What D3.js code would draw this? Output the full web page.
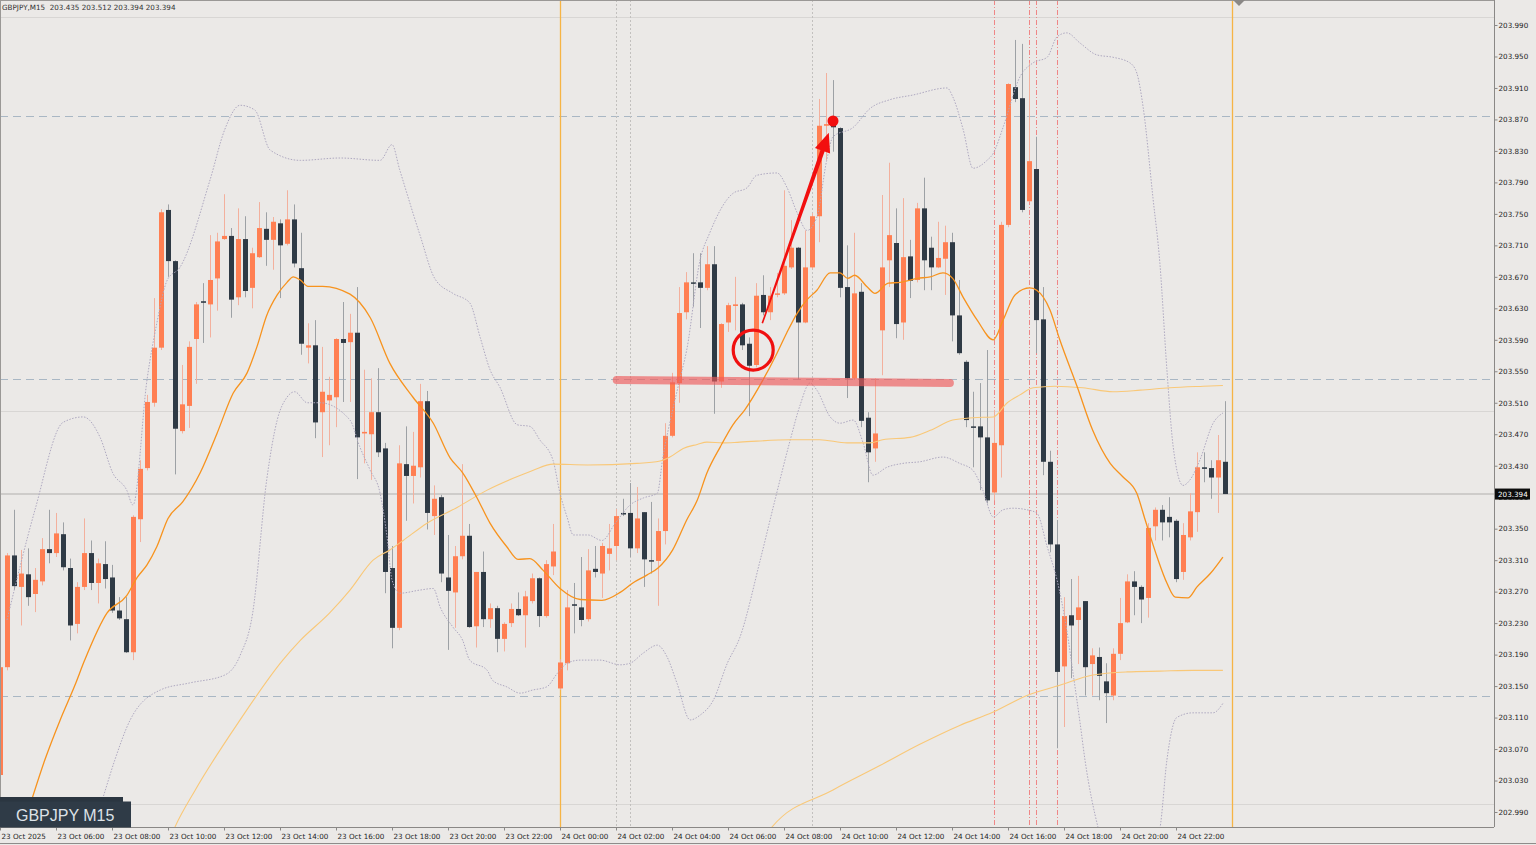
<!DOCTYPE html>
<html>
<head>
<meta charset="utf-8">
<script src="https://cdn.jsdelivr.net/npm/d3@7"></script>
<style>
    html, body { margin: 0; padding: 0; background: #ebe9e7; overflow: hidden; }
    svg { display: block; }
</style>
</head>
<body>
<div id="chart"></div>
<script>
const WIDTH = 1536;
const HEIGHT = 845;
const PLOT = { left: 0, top: 0, right: 1494, bottom: 827 };

// GBPJPY M15, bar 0 = 23 Oct 04:00
const opens = [
    203.037, 203.174, 203.316, 203.276, 203.292, 203.267, 203.283, 203.324, 203.319, 203.343,
    203.300, 203.229, 203.276, 203.319, 203.281, 203.305, 203.288, 203.246, 203.235, 203.193,
    203.362, 203.427, 203.510, 203.580, 203.755, 203.690, 203.474, 203.506, 203.591, 203.639,
    203.635, 203.668, 203.718, 203.722, 203.644, 203.718, 203.656, 203.695, 203.731, 203.717,
    203.738, 203.712, 203.743, 203.681, 203.580, 203.583, 203.498, 203.513, 203.517, 203.591,
    203.587, 203.599, 203.471, 203.470, 203.498, 203.452, 203.300, 203.224, 203.432, 203.417,
    203.428, 203.512, 203.366, 203.390, 203.288, 203.269, 203.315, 203.341, 203.226, 203.295,
    203.235, 203.249, 203.210, 203.230, 203.248, 203.240, 203.258, 203.287, 203.239, 203.302,
    203.147, 203.179, 203.254, 203.250, 203.235, 203.299, 203.293, 203.318, 203.328, 203.370,
    203.370, 203.325, 203.371, 203.310, 203.309, 203.347, 203.468, 203.535, 203.625, 203.663,
    203.663, 203.656, 203.686, 203.537, 203.612, 203.633, 203.635, 203.585, 203.558, 203.647,
    203.625, 203.648, 203.649, 203.682, 203.707, 203.612, 203.682, 203.747, 203.862, 203.867,
    203.859, 203.657, 203.541, 203.651, 203.491, 203.452, 203.602, 203.691, 203.713, 203.612,
    203.696, 203.666, 203.757, 203.707, 203.682, 203.693, 203.714, 203.621, 203.562, 203.480,
    203.480, 203.466, 203.396, 203.456, 203.736, 203.911, 203.897, 203.766, 203.807, 203.616,
    203.435, 203.330, 203.175, 203.240, 203.234, 203.258, 203.178, 203.187, 203.156, 203.138,
    203.191, 203.231, 203.283, 203.276, 203.262, 203.353, 203.374, 203.365, 203.360, 203.295,
    203.339, 203.371, 203.428, 203.427, 203.415, 203.435
];
const highs = [
    203.183, 203.319, 203.374, 203.323, 203.325, 203.300, 203.338, 203.374, 203.370, 203.358,
    203.312, 203.282, 203.363, 203.335, 203.312, 203.334, 203.304, 203.263, 203.263, 203.367,
    203.437, 203.520, 203.643, 203.756, 203.762, 203.691, 203.558, 203.588, 203.638, 203.662,
    203.723, 203.726, 203.775, 203.732, 203.757, 203.747, 203.707, 203.765, 203.752, 203.746,
    203.743, 203.780, 203.762, 203.726, 203.611, 203.615, 203.581, 203.543, 203.592, 203.638,
    203.623, 203.657, 203.552, 203.541, 203.554, 203.459, 203.328, 203.456, 203.480, 203.473,
    203.534, 203.525, 203.405, 203.393, 203.342, 203.328, 203.432, 203.356, 203.295, 203.321,
    203.255, 203.252, 203.231, 203.255, 203.269, 203.271, 203.293, 203.288, 203.310, 203.356,
    203.184, 203.272, 203.281, 203.314, 203.324, 203.328, 203.332, 203.356, 203.375, 203.388,
    203.408, 203.403, 203.371, 203.384, 203.363, 203.484, 203.548, 203.657, 203.676, 203.700,
    203.700, 203.709, 203.709, 203.611, 203.637, 203.670, 203.637, 203.593, 203.662, 203.672,
    203.657, 203.675, 203.780, 203.742, 203.708, 203.729, 203.751, 203.896, 203.929, 203.920,
    203.860, 203.710, 203.726, 203.662, 203.498, 203.541, 203.774, 203.815, 203.757, 203.770,
    203.717, 203.764, 203.796, 203.721, 203.740, 203.735, 203.726, 203.666, 203.564, 203.524,
    203.535, 203.577, 203.501, 203.740, 203.916, 203.971, 203.966, 203.942, 203.848, 203.657,
    203.449, 203.361, 203.263, 203.286, 203.290, 203.258, 203.198, 203.199, 203.179, 203.198,
    203.262, 203.292, 203.296, 203.278, 203.357, 203.377, 203.380, 203.390, 203.362, 203.357,
    203.395, 203.447, 203.447, 203.437, 203.469, 203.512
];
const lows = [
    203.033, 203.170, 203.272, 203.227, 203.252, 203.244, 203.278, 203.306, 203.314, 203.297,
    203.208, 203.217, 203.272, 203.272, 203.255, 203.274, 203.243, 203.234, 203.192, 203.183,
    203.333, 203.424, 203.505, 203.577, 203.670, 203.419, 203.471, 203.478, 203.534, 203.586,
    203.593, 203.627, 203.717, 203.618, 203.634, 203.644, 203.630, 203.694, 203.684, 203.679,
    203.643, 203.710, 203.682, 203.571, 203.560, 203.465, 203.441, 203.456, 203.479, 203.511,
    203.511, 203.413, 203.433, 203.412, 203.441, 203.268, 203.198, 203.221, 203.360, 203.382,
    203.415, 203.349, 203.342, 203.282, 203.196, 203.224, 203.311, 203.224, 203.199, 203.225,
    203.224, 203.193, 203.194, 203.225, 203.239, 203.199, 203.255, 203.225, 203.237, 203.291,
    203.145, 203.170, 203.217, 203.226, 203.232, 203.288, 203.262, 203.297, 203.310, 203.366,
    203.314, 203.319, 203.276, 203.293, 203.252, 203.330, 203.466, 203.510, 203.616, 203.632,
    203.605, 203.653, 203.496, 203.529, 203.600, 203.602, 203.577, 203.493, 203.555, 203.621,
    203.615, 203.644, 203.647, 203.680, 203.540, 203.611, 203.680, 203.714, 203.818, 203.829,
    203.644, 203.516, 203.539, 203.479, 203.409, 203.435, 203.545, 203.657, 203.592, 203.590,
    203.643, 203.663, 203.653, 203.653, 203.681, 203.647, 203.588, 203.571, 203.479, 203.428,
    203.399, 203.382, 203.386, 203.415, 203.733, 203.892, 203.752, 203.765, 203.573, 203.418,
    203.320, 203.071, 203.098, 203.160, 203.178, 203.138, 203.138, 203.132, 203.103, 203.132,
    203.183, 203.230, 203.240, 203.230, 203.237, 203.335, 203.335, 203.339, 203.282, 203.285,
    203.335, 203.346, 203.409, 203.388, 203.370, 203.394
];
const closes = [
    203.174, 203.316, 203.277, 203.293, 203.263, 203.285, 203.324, 203.319, 203.344, 203.301,
    203.227, 203.276, 203.319, 203.281, 203.306, 203.286, 203.246, 203.236, 203.193, 203.365,
    203.426, 203.511, 203.580, 203.752, 203.690, 203.477, 203.508, 203.581, 203.635, 203.637,
    203.666, 203.715, 203.722, 203.641, 203.718, 203.652, 203.700, 203.732, 203.717, 203.740,
    203.710, 203.743, 203.687, 203.585, 203.583, 203.485, 203.524, 203.520, 203.591, 203.586,
    203.599, 203.466, 203.473, 203.498, 203.447, 203.295, 203.224, 203.433, 203.417, 203.430,
    203.512, 203.370, 203.388, 203.293, 203.271, 203.315, 203.341, 203.225, 203.295, 203.235,
    203.249, 203.210, 203.229, 203.248, 203.240, 203.264, 203.287, 203.239, 203.305, 203.321,
    203.180, 203.250, 203.252, 203.234, 203.297, 203.295, 203.328, 203.325, 203.366, 203.368,
    203.325, 203.363, 203.311, 203.309, 203.347, 203.468, 203.536, 203.624, 203.663, 203.662,
    203.656, 203.686, 203.537, 203.610, 203.634, 203.635, 203.583, 203.557, 203.646, 203.625,
    203.646, 203.649, 203.684, 203.707, 203.612, 203.682, 203.747, 203.862, 203.864, 203.860,
    203.656, 203.541, 203.649, 203.487, 203.447, 203.471, 203.682, 203.723, 203.610, 203.695,
    203.665, 203.757, 203.691, 203.682, 203.694, 203.714, 203.621, 203.573, 203.488, 203.479,
    203.466, 203.386, 203.459, 203.736, 203.915, 203.896, 203.755, 203.817, 203.615, 203.435,
    203.330, 203.168, 203.239, 203.227, 203.250, 203.174, 203.189, 203.163, 203.141, 203.191,
    203.230, 203.283, 203.276, 203.260, 203.351, 203.374, 203.358, 203.358, 203.286, 203.342,
    203.372, 203.428, 203.426, 203.415, 203.437, 203.394
];

// indicator readings: [bar, price]
const bandUpper = [
    [1, 203.234], [5, 203.374], [9, 203.485], [11.9, 203.492], [14.3, 203.466], [16.1, 203.421],
    [18.1, 203.399], [19, 203.380], [21, 203.539], [22.4, 203.611], [23.9, 203.666], [25.7, 203.682],
    [30, 203.793], [32.1, 203.857], [34.3, 203.888], [36.4, 203.882], [38.6, 203.831], [42.9, 203.818],
    [48.6, 203.821], [54.3, 203.818], [56, 203.838], [57.1, 203.806], [60, 203.723], [62.1, 203.668],
    [64.7, 203.649], [67.1, 203.637], [68.6, 203.593], [70, 203.552], [71.4, 203.530], [73.9, 203.482],
    [75.7, 203.480], [77.1, 203.463], [79, 203.437], [80, 203.395], [81, 203.365], [81.9, 203.342],
    [84, 203.342], [86, 203.335], [87.9, 203.357], [90, 203.380], [91.9, 203.389], [93.9, 203.395],
    [94.7, 203.441], [96, 203.497], [97.1, 203.539], [98.1, 203.577], [100, 203.691], [101.4, 203.726],
    [104.7, 203.776], [106.7, 203.783], [108.1, 203.799], [111, 203.802], [112.4, 203.784], [113.9, 203.751],
    [115.3, 203.729], [116.7, 203.746], [118.1, 203.818], [119, 203.848], [121.9, 203.860], [124.3, 203.884],
    [127.1, 203.895], [130.4, 203.901], [135.3, 203.910], [136.1, 203.899], [137.6, 203.857], [139, 203.808],
    [141, 203.818], [141.9, 203.827], [143.3, 203.860], [145.7, 203.924], [147.6, 203.942], [149.6, 203.949],
    [151, 203.975], [152.4, 203.980], [154.3, 203.967], [156.7, 203.952], [159, 203.949], [161.4, 203.942],
    [162.4, 203.929], [163.3, 203.886], [164.7, 203.771], [165.7, 203.687], [166.7, 203.552], [167.6, 203.454],
    [169, 203.405], [170, 203.412], [171.4, 203.437], [173.3, 203.484], [174.7, 203.497]
];
const bandLower = [
    [11.4, 202.916], [14.6, 203.005], [16.4, 203.056], [18.6, 203.107], [22.9, 203.145], [27.1, 203.154],
    [32.1, 203.164], [34.3, 203.189], [36.1, 203.243], [38.1, 203.412], [39.6, 203.488], [41, 203.517],
    [42.1, 203.524], [43.9, 203.510], [45.7, 203.510], [50, 203.488], [51.4, 203.454], [52.9, 203.424],
    [54.3, 203.395], [55.3, 203.339], [56, 203.285], [57.1, 203.268], [60, 203.272], [61.9, 203.274],
    [62.9, 203.250], [64.7, 203.225], [66.1, 203.208], [67.1, 203.183], [69.6, 203.170], [70.4, 203.157],
    [72.4, 203.149], [74.3, 203.141], [76.1, 203.145], [78.1, 203.149], [79.6, 203.166], [81, 203.179],
    [82.9, 203.183], [85.7, 203.183], [88.6, 203.177], [90, 203.179], [91.9, 203.192], [93.9, 203.202],
    [95.3, 203.187], [96.7, 203.154], [98.6, 203.107], [100, 203.113], [101.9, 203.132], [103.9, 203.179],
    [105.7, 203.212], [108.6, 203.310], [110.7, 203.386], [112.9, 203.463], [114.3, 203.507], [115.7, 203.535],
    [116.7, 203.526], [118.6, 203.492], [120, 203.484], [121.9, 203.488], [123.3, 203.459], [124.7, 203.418],
    [126.7, 203.428], [129, 203.433], [131.4, 203.435], [134.7, 203.441], [137.1, 203.433], [139, 203.424],
    [140.4, 203.399], [141.9, 203.365], [143.3, 203.374], [144.7, 203.376], [146.7, 203.374], [148.1, 203.370],
    [149.6, 203.327], [151, 203.285], [152.4, 203.221], [153.3, 203.166], [154.3, 203.103], [155, 203.056],
    [156.9, 202.969], [160, 202.903], [162.9, 202.903], [165.7, 202.969], [166.7, 203.056], [168.1, 203.110],
    [170.4, 203.116], [173.3, 203.116], [174.7, 203.128]
];
const bandMiddle = [
    [4.3, 202.999], [6.4, 203.056], [8.6, 203.107], [10.7, 203.151], [12.1, 203.183], [15.3, 203.243],
    [18.1, 203.265], [19.6, 203.288], [21, 203.304], [22.4, 203.327], [24, 203.363], [26.1, 203.384],
    [28.6, 203.421], [31, 203.471], [33.3, 203.522], [35.3, 203.548], [36.7, 203.581], [38.1, 203.621],
    [39.6, 203.647], [41, 203.663], [41.9, 203.670], [42.9, 203.666], [44, 203.658], [46.1, 203.658],
    [50, 203.648], [52.9, 203.618], [55.7, 203.560], [59, 203.517], [61.9, 203.484], [64.3, 203.440],
    [66.1, 203.421], [68.1, 203.390], [70, 203.357], [72.4, 203.327], [74, 203.311], [75.7, 203.312],
    [77.6, 203.297], [80, 203.274], [82.9, 203.260], [86, 203.259], [88.6, 203.269], [90.4, 203.281],
    [92.4, 203.291], [94, 203.300], [96.1, 203.323], [98.1, 203.361], [99.6, 203.386], [101, 203.421],
    [102.9, 203.454], [104.7, 203.482], [106.4, 203.501], [109, 203.539], [111, 203.573], [112.4, 203.599],
    [113.9, 203.624], [115.3, 203.641], [116.7, 203.653], [118.6, 203.675], [120, 203.675], [121.1, 203.668],
    [122.1, 203.672], [123.9, 203.657], [125, 203.649], [126.9, 203.662], [128.6, 203.663], [131, 203.668],
    [132.9, 203.670], [134.7, 203.675], [136.1, 203.668], [137.6, 203.644], [139.6, 203.615], [141.9, 203.590],
    [143.3, 203.615], [145, 203.647], [147.1, 203.656], [148.1, 203.653], [150, 203.628], [151.4, 203.590],
    [153.9, 203.530], [156.1, 203.475], [158.6, 203.433], [160.4, 203.416], [162.4, 203.395], [163.6, 203.361],
    [165.3, 203.314], [166.7, 203.281], [167.9, 203.263], [169.7, 203.262], [171, 203.276], [172.9, 203.293],
    [174.7, 203.314]
];
const maSlow = [
    [23.6, 202.941], [25, 202.971], [27.9, 203.018], [34.3, 203.107], [40.4, 203.183], [42.9, 203.208],
    [47.1, 203.243], [50, 203.272], [53.3, 203.310], [55.7, 203.323], [57.6, 203.335], [61, 203.357],
    [65.3, 203.377], [69.6, 203.399], [73.3, 203.414], [76.1, 203.424], [79, 203.432], [83.9, 203.431],
    [91, 203.433], [94.3, 203.436], [95.7, 203.441], [97.6, 203.452], [99.6, 203.457], [101, 203.460],
    [103.3, 203.459], [105.7, 203.460], [112.9, 203.463], [117.1, 203.463], [121, 203.459], [124.3, 203.459],
    [126.1, 203.463], [130, 203.466], [132.9, 203.475], [136.1, 203.488], [139, 203.491], [141.9, 203.492],
    [143.9, 203.510], [145.7, 203.520], [147.6, 203.529], [150.7, 203.531], [154.7, 203.529], [159, 203.524],
    [162.9, 203.526], [167.1, 203.529], [171.9, 203.531], [174.7, 203.532]
];
const maLong = [
    [108.6, 202.948], [110.3, 202.971], [119, 203.018], [125.7, 203.049], [131.4, 203.076], [137.1, 203.100],
    [141.9, 203.117], [146.7, 203.138], [151.4, 203.151], [156.1, 203.164], [161, 203.168], [165.7, 203.169],
    [170.4, 203.170], [174.7, 203.170]
];

const priceTicks = [
    203.990, 203.950, 203.910, 203.870, 203.830, 203.790, 203.750, 203.710, 203.670, 203.630,
    203.590, 203.550, 203.510, 203.470, 203.430, 203.390, 203.350, 203.310, 203.270, 203.230,
    203.190, 203.150, 203.110, 203.070, 203.030, 202.990
];
const timeTickBars = [0, 8, 16, 24, 32, 40, 48, 56, 64, 72, 80, 88, 96, 104, 112, 120, 128, 136, 144, 152, 160, 168];
const timeLabels = [
    '23 Oct 2025', '23 Oct 06:00', '23 Oct 08:00', '23 Oct 10:00', '23 Oct 12:00', '23 Oct 14:00',
    '23 Oct 16:00', '23 Oct 18:00', '23 Oct 20:00', '23 Oct 22:00', '24 Oct 00:00', '24 Oct 02:00',
    '24 Oct 04:00', '24 Oct 06:00', '24 Oct 08:00', '24 Oct 10:00', '24 Oct 12:00', '24 Oct 14:00',
    '24 Oct 16:00', '24 Oct 18:00', '24 Oct 20:00', '24 Oct 22:00'
];

const roundLevels = [204.000, 203.500, 203.000];
const dashedLevels = [203.875, 203.540, 203.1375];
const lastPrice = 203.394;
const periodBars = [80, 176];
const dottedBars = [88, 90, 116];
const redBars = [142, 147, 148, 151];

// annotations (bar, price)
const supportLine = [[88.1, 203.539], [135.7, 203.535]];
const arrowFrom = [108.9, 203.611];
const arrowTo = [118.4, 203.853];
const circleAt = [107.6, 203.577];
const dotAt = [119, 203.868];

const x = d3.scaleLinear().domain([0, 176]).range([0, 1232]);
const y = d3.scaleLinear().domain([202.990, 203.990]).range([812, 25]);

const svg = d3.select('#chart').append('svg')
    .attr('width', WIDTH)
    .attr('height', HEIGHT)
    .style('font-family', '"DejaVu Sans", sans-serif');

svg.append('rect')
    .attr('width', WIDTH)
    .attr('height', HEIGHT)
    .attr('fill', '#ebe9e7');

svg.append('clipPath')
    .attr('id', 'plotClip')
    .append('rect')
    .attr('x', PLOT.left)
    .attr('y', PLOT.top)
    .attr('width', PLOT.right - PLOT.left)
    .attr('height', PLOT.bottom - PLOT.top);

const plot = svg.append('g').attr('clip-path', 'url(#plotClip)');

// horizontal levels
plot.selectAll('.round-level')
    .data(roundLevels)
    .enter().append('line')
    .attr('x1', PLOT.left).attr('x2', PLOT.right)
    .attr('y1', d => Math.round(y(d)) + 0.5).attr('y2', d => Math.round(y(d)) + 0.5)
    .attr('stroke', '#d8d6d4');

plot.selectAll('.dash-level')
    .data(dashedLevels)
    .enter().append('line')
    .attr('x1', PLOT.left).attr('x2', PLOT.right)
    .attr('y1', d => Math.round(y(d)) + 0.5).attr('y2', d => Math.round(y(d)) + 0.5)
    .attr('stroke', '#a9b7c4')
    .attr('stroke-dasharray', '8,5');

plot.append('line')
    .attr('x1', PLOT.left).attr('x2', PLOT.right)
    .attr('y1', y(lastPrice)).attr('y2', y(lastPrice))
    .attr('stroke', '#c4c2c0')
    .attr('stroke-width', 1.5);

// vertical markers
const vLine = (bars, color, dash, widthPx) => {
    plot.append('g')
        .selectAll('line')
        .data(bars)
        .enter().append('line')
        .attr('x1', d => Math.round(x(d)) + 0.5).attr('x2', d => Math.round(x(d)) + 0.5)
        .attr('y1', PLOT.top).attr('y2', PLOT.bottom)
        .attr('stroke', color)
        .attr('stroke-width', widthPx)
        .attr('stroke-dasharray', dash);
};
vLine(periodBars, '#f6b445', null, 1.3);
vLine(dottedBars, '#c2c0be', '2,2', 1);
vLine(redBars, '#ef8686', '5,2,1,2', 1);

// candles
const bars = d3.range(opens.length);
const isBull = i => closes[i] >= opens[i];

plot.append('g')
    .selectAll('line')
    .data(bars)
    .enter().append('line')
    .attr('x1', i => x(i) + 0.5).attr('x2', i => x(i) + 0.5)
    .attr('y1', i => y(highs[i])).attr('y2', i => y(lows[i]))
    .attr('stroke', i => isBull(i) ? '#f3b09d' : '#9da1a5')
    .attr('stroke-width', 1);

plot.append('g')
    .selectAll('rect')
    .data(bars)
    .enter().append('rect')
    .attr('x', i => x(i) - 2)
    .attr('width', 5)
    .attr('y', i => y(Math.max(opens[i], closes[i])))
    .attr('height', i => Math.max(1.5, Math.abs(y(opens[i]) - y(closes[i]))))
    .attr('fill', i => isBull(i) ? '#ff7f52' : '#2f3a45');

// indicators
const line = d3.line()
    .x(d => x(d[0]))
    .y(d => y(d[1]))
    .curve(d3.curveMonotoneX);

const drawLine = (points, color, widthPx, dash) => {
    plot.append('path')
        .attr('d', line(points))
        .attr('fill', 'none')
        .attr('stroke', color)
        .attr('stroke-width', widthPx)
        .attr('stroke-dasharray', dash);
};
drawLine(bandUpper, '#aea8c0', 1, '1.5,1.5');
drawLine(bandLower, '#aea8c0', 1, '1.5,1.5');
drawLine(maLong, '#f9c878', 1.1, null);
drawLine(maSlow, '#f9c878', 1.1, null);
drawLine(bandMiddle, '#f7931e', 1.3, null);

// annotations
plot.append('line')
    .attr('x1', x(supportLine[0][0])).attr('y1', y(supportLine[0][1]))
    .attr('x2', x(supportLine[1][0])).attr('y2', y(supportLine[1][1]))
    .attr('stroke', '#ee5a5a')
    .attr('stroke-opacity', 0.65)
    .attr('stroke-width', 8)
    .attr('stroke-linecap', 'round');

plot.append('circle')
    .attr('cx', x(circleAt[0]))
    .attr('cy', y(circleAt[1]))
    .attr('r', 20)
    .attr('fill', 'none')
    .attr('stroke', '#f01010')
    .attr('stroke-width', 3.2);

const drawArrow = () => {
    const sx = x(arrowFrom[0]), sy = y(arrowFrom[1]);
    const tx = x(arrowTo[0]), ty = y(arrowTo[1]);
    const len = Math.hypot(tx - sx, ty - sy);
    const ux = (tx - sx) / len, uy = (ty - sy) / len;
    const nx = -uy, ny = ux;
    const headLen = 19, headHalf = 8;
    const bx = tx - ux * headLen, by = ty - uy * headLen;
    const p = d3.path();
    p.moveTo(sx + nx * 0.8, sy + ny * 0.8);
    p.lineTo(bx + nx * 2.2, by + ny * 2.2);
    p.lineTo(bx + nx * headHalf, by + ny * headHalf);
    p.lineTo(tx, ty);
    p.lineTo(bx - nx * headHalf, by - ny * headHalf);
    p.lineTo(bx - nx * 2.2, by - ny * 2.2);
    p.lineTo(sx - nx * 0.8, sy - ny * 0.8);
    p.closePath();
    plot.append('path')
        .attr('d', p.toString())
        .attr('fill', '#f20f0f');
};
drawArrow();

plot.append('circle')
    .attr('cx', x(dotAt[0]))
    .attr('cy', y(dotAt[1]))
    .attr('r', 5.5)
    .attr('fill', '#f20f0f');

// frame
svg.append('line')
    .attr('x1', 0).attr('x2', PLOT.right).attr('y1', 0.5).attr('y2', 0.5)
    .attr('stroke', '#9a9896');
svg.append('line')
    .attr('x1', 0.5).attr('x2', 0.5).attr('y1', 0).attr('y2', PLOT.bottom)
    .attr('stroke', '#9a9896');
svg.append('line')
    .attr('x1', 0).attr('x2', WIDTH).attr('y1', 843.5).attr('y2', 843.5)
    .attr('stroke', '#8e8c8a');
svg.append('path')
    .attr('d', `M${x(177) - 6},0 L${x(177) + 6},0 L${x(177)},6 Z`)
    .attr('fill', '#8a8886');

// price axis
const yAxis = svg.append('g')
    .attr('transform', `translate(${PLOT.right + 0.5},0)`)
    .call(d3.axisRight(y)
        .tickValues(priceTicks)
        .tickFormat(d3.format('.3f'))
        .tickSize(3)
        .tickSizeOuter(0)
        .tickPadding(1));
yAxis.select('.domain').attr('d', `M0,0V${PLOT.bottom}`).attr('stroke', '#8a8886');
yAxis.selectAll('line').attr('stroke', '#8a8886');
yAxis.selectAll('text')
    .attr('font-size', 7.2)
    .attr('font-family', '"DejaVu Sans", sans-serif')
    .attr('fill', '#1e1e1e');

// time axis
const xAxis = svg.append('g')
    .attr('transform', `translate(0,${PLOT.bottom + 0.5})`)
    .call(d3.axisBottom(x)
        .tickValues(timeTickBars)
        .tickFormat((d, i) => timeLabels[i])
        .tickSize(3)
        .tickSizeOuter(0)
        .tickPadding(3));
xAxis.select('.domain').attr('d', `M0,0H${PLOT.right}`).attr('stroke', '#8a8886');
xAxis.selectAll('line').attr('stroke', '#8a8886');
xAxis.selectAll('text')
    .attr('font-size', 7.2)
    .attr('font-family', '"DejaVu Sans", sans-serif')
    .attr('fill', '#1e1e1e')
    .attr('text-anchor', 'start')
    .attr('x', 1);

// last price label
const lastG = svg.append('g')
    .attr('transform', `translate(${PLOT.right + 1},${y(lastPrice)})`);
lastG.append('rect')
    .attr('x', 0).attr('y', -5.5)
    .attr('width', 35).attr('height', 11)
    .attr('fill', '#0c0c0c');
lastG.append('text')
    .attr('x', 3).attr('y', 2.6)
    .attr('font-size', 7.2)
    .attr('fill', '#ffffff')
    .text(d3.format('.3f')(lastPrice));

// header
svg.append('text')
    .attr('x', 2).attr('y', 9.5)
    .attr('font-size', 7.2)
    .attr('fill', '#333333')
    .attr('xml:space', 'preserve')
    .style('white-space', 'pre')
    .text(`GBPJPY,M15  ${d3.format('.3f')(opens[175])} ${d3.format('.3f')(highs[175])} ${d3.format('.3f')(lows[175])} ${d3.format('.3f')(closes[175])}`);

// symbol badge
svg.append('rect')
    .attr('x', 0).attr('y', 797)
    .attr('width', 123).attr('height', 30)
    .attr('fill', '#2b3641');
svg.append('rect')
    .attr('x', 0).attr('y', 801.5)
    .attr('width', 131).attr('height', 26)
    .attr('fill', '#2f3b47');
svg.append('text')
    .attr('x', 16).attr('y', 820.5)
    .attr('font-family', '"Liberation Sans", Arial, sans-serif')
    .attr('font-size', 16)
    .attr('fill', '#dde2e7')
    .text('GBPJPY M15');
</script>
</body>
</html>
